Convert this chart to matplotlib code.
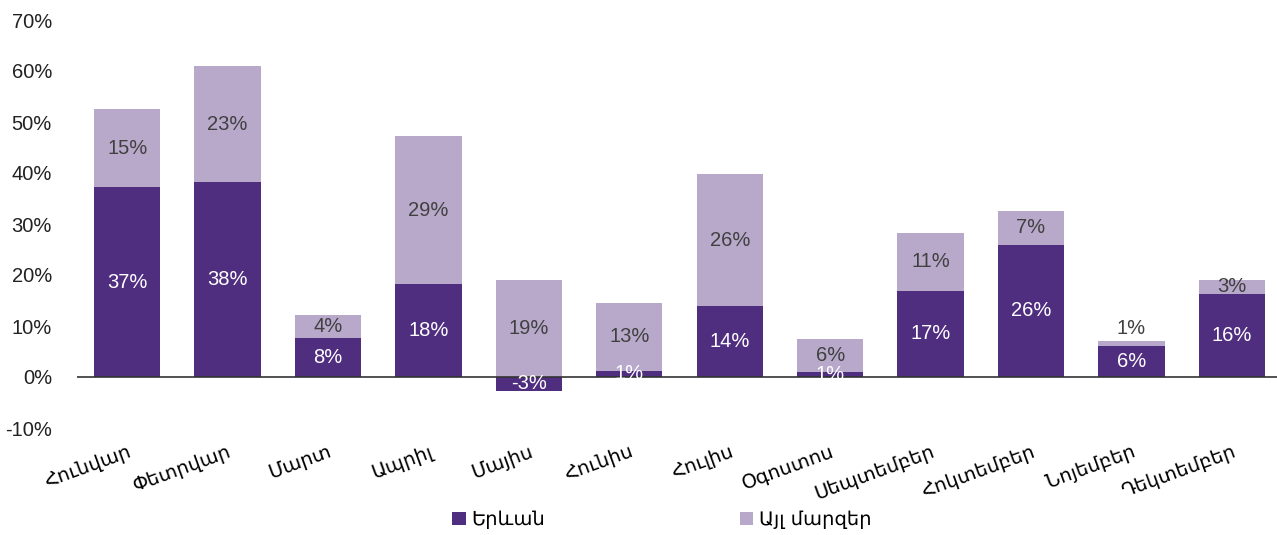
import matplotlib
matplotlib.use("Agg")
import matplotlib.pyplot as plt
import numpy as np

months = ["Հունվար", "Փետրվար", "Մարտ", "Ապրիլ", "Մայիս", "Հունիս",
          "Հուլիս", "Օգոստոս", "Սեպտեմբեր", "Հոկտեմբեր", "Նոյեմբեր", "Դեկտեմբեր"]
yerevan = [37.2, 38.2, 7.6, 18.2, -2.7, 1.2, 13.9, 1.0, 16.9, 25.9, 6.1, 16.3]
regions = [15.4, 22.8, 4.5, 29.0, 19.0, 13.3, 25.9, 6.4, 11.4, 6.7, 1.0, 2.7]
series_names = ["Երևան", "Այլ մարզեր"]
yticks = [-10, 0, 10, 20, 30, 40, 50, 60, 70]

dark = "#4F2D7F"
light = "#B8A9CB"
plt.rcParams['font.family'] = ['Liberation Sans', 'DejaVu Sans']

fig = plt.figure(figsize=(12.77, 5.35), dpi=100)
ax = fig.add_axes([77/1277, (535-428)/535, 1 - 77/1277, (428-20)/535])

x = np.arange(len(months))
w = 0.66
y = np.array(yerevan)
r = np.array(regions)
bottoms = np.where(y > 0, y, 0)
ax.bar(x, y, w, color=dark, label=series_names[0], zorder=2)
ax.bar(x, r, w, bottom=bottoms, color=light, label=series_names[1], zorder=2)

fs = 14.5
for i in range(len(x)):
    ax.text(x[i], y[i] / 2, f"{round(y[i]):.0f}%", ha="center", va="center",
            color="white", fontsize=fs, zorder=4)
    if r[i] < 2:
        ax.text(x[i], bottoms[i] + r[i] + 0.5, f"{round(r[i]):.0f}%", ha="center",
                va="bottom", color="#404040", fontsize=fs, zorder=4)
    else:
        ax.text(x[i], bottoms[i] + r[i] / 2, f"{round(r[i]):.0f}%", ha="center",
                va="center", color="#404040", fontsize=fs, zorder=4)

ax.axhline(0, color="#333333", linewidth=1.2, zorder=3)
ax.set_ylim(-10, 70)
ax.set_xlim(-0.5, 11.45)
ax.set_yticks(yticks)
ax.set_yticklabels([f"{t}%" for t in yticks], fontsize=14.5, color="#222222")
ax.set_xticks(x)
ax.set_xticklabels(months, rotation=20, ha="right", rotation_mode="anchor",
                   fontsize=14, family=['DejaVu Sans'])
ax.tick_params(axis="x", length=0, pad=10)
ax.tick_params(axis="y", length=0, pad=18)
for s in ax.spines.values():
    s.set_visible(False)

ax.legend(loc="center", bbox_to_anchor=(0.4875, -0.225), ncol=2, frameon=False,
          handlelength=0.7, handleheight=0.7, handletextpad=0.3,
          columnspacing=10, prop={'family': ['DejaVu Sans'], 'size': 14})

fig.savefig("out.png", dpi=100)
